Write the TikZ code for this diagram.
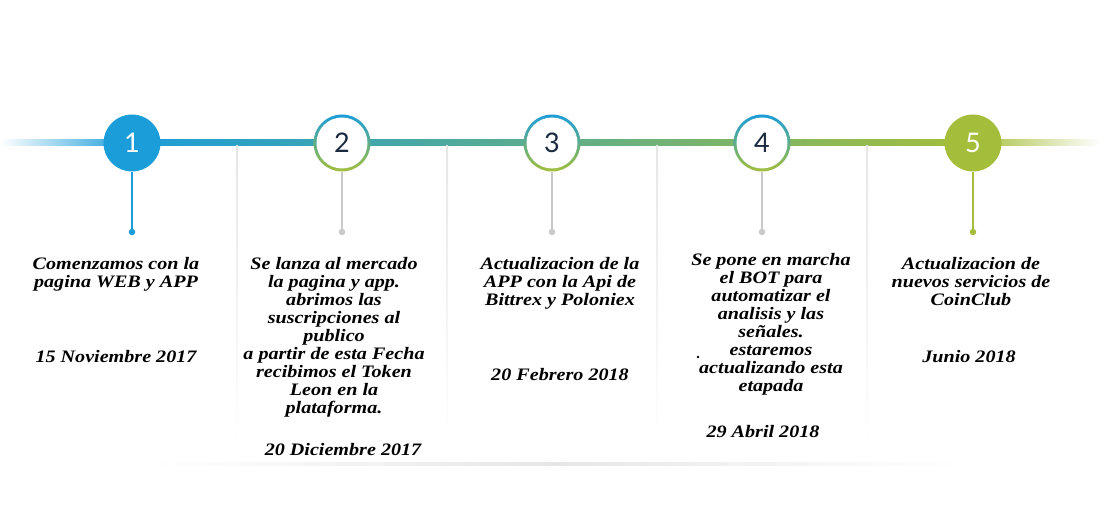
\documentclass[tikz,border=0pt]{standalone}
\usepackage{fontspec}
\setmainfont{Liberation Serif}[FakeStretch=1.15]
\newfontfamily\numfont{Lato}
\usetikzlibrary{calc,backgrounds}
\definecolor{tlblue}{HTML}{1B9DD9}
\definecolor{tlgreen}{HTML}{A4BE3B}
\definecolor{tlnavy}{HTML}{1C2A3F}
\definecolor{tlgrey}{HTML}{C9C9C9}
\definecolor{tlsep}{HTML}{E6E6E6}

\begin{document}
\begin{tikzpicture}[
    x=1pt, y=-1pt,
    every node/.style={font=\fontsize{17.5}{18}\selectfont\bfseries\itshape},
    full/.style={circle, minimum size=57pt, inner sep=0pt, text=white,
                 font=\numfont\fontsize{27}{27}\selectfont},
    ring/.style={circle, minimum size=57pt, inner sep=0pt, text=tlnavy,
                 top color=tlblue, bottom color=tlgreen,
                 font=\numfont\fontsize{27}{27}\selectfont,
                 path picture={\fill[white] (path picture bounding box.center) circle (25.5pt);}},
    dot/.style={circle, inner sep=0pt, minimum size=6.5pt, fill=tlgrey},
    desc/.style={align=center, anchor=north, inner sep=0pt},
    stem/.style={line width=2pt, draw=tlgrey},
]
\useasboundingbox (0,0) rectangle (1109,516);

% Steps
\node[full, fill=tlblue]  (s1) at (132,143) {1};
\node[ring]               (s2) at (342,143) {2};
\node[ring]               (s3) at (552,143) {3};
\node[ring]               (s4) at (762,143) {4};
\node[full, fill=tlgreen] (s5) at (973,143) {5};

% Dots
\node[dot, fill=tlblue]  (p1) at (132,232) {};
\node[dot]               (p2) at (342,232) {};
\node[dot]               (p3) at (552,232) {};
\node[dot]               (p4) at (762,232) {};
\node[dot, fill=tlgreen] (p5) at (973,232) {};

% Texts
\node[desc] (desc1) at (116,257) {Comenzamos con la\\pagina WEB y APP};
\node[desc] (date1) at (116,350) {15 Noviembre 2017};
\node[desc] (desc2) at (334,257) {Se lanza al mercado\\la pagina y app.\\abrimos las\\suscripciones al\\publico\\a partir de esta Fecha\\recibimos el Token\\Leon en la\\plataforma.};
\node[desc] (date2) at (343,443) {20 Diciembre 2017};
\node[desc] (desc3) at (560,257) {Actualizacion de la\\APP con la Api de\\Bittrex y Poloniex};
\node[desc] (date3) at (560,368) {20 Febrero 2018};
\node[desc] (desc4) at (771,253) {Se pone en marcha\\el BOT para\\automatizar el\\analisis y las\\señales.\\estaremos\\actualizando esta\\etapada};
\node[desc] (date4) at (763,425) {29 Abril 2018};
\node[desc] (desc5) at (971,257) {Actualizacion de\\nuevos servicios de\\CoinClub};
\node[desc] (date5) at (969,350) {Junio 2018};
\fill (698,357) circle (1.3pt);

% Lines
\begin{scope}[on background layer]
  \shade[left color=white, right color=tlblue] (0,140) rectangle ($(s1.center)+(0,3)$);
  \shade[left color=tlblue, right color=tlgreen] ($(s1.center)+(0,-3)$) rectangle ($(s5.center)+(0,3)$);
  \shade[left color=tlgreen, right color=white] ($(s5.center)+(0,-3)$) rectangle (1100,146);
  \foreach \x in {237,447,657,867}
    \shade[top color=tlsep, bottom color=white] (\x-1,146) rectangle (\x+1,445);
  \shade[left color=white, right color=white, middle color=tlsep] (150,462) rectangle (960,465);
\end{scope}
\draw[stem, draw=tlblue]  (s1) -- (p1);
\draw[stem]               (s2) -- (p2);
\draw[stem]               (s3) -- (p3);
\draw[stem]               (s4) -- (p4);
\draw[stem, draw=tlgreen] (s5) -- (p5);

\end{tikzpicture}
\end{document}
